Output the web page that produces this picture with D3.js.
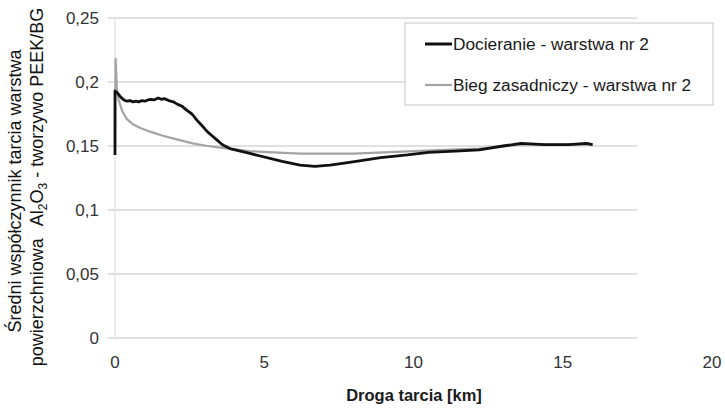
<!DOCTYPE html>
<html>
<head>
<meta charset="utf-8">
<script src="https://cdn.jsdelivr.net/npm/d3@7"></script>
<style>
  html, body { margin: 0; padding: 0; background: #fff; }
  svg { display: block; font-family: "Liberation Sans", Arial, sans-serif; }
</style>
</head>
<body>
<svg id="chart" width="725" height="410"></svg>
<script>
// Friction distance [km] vs. mean friction coefficient
const docieranie = [
  [0, 0.143], [0, 0.193], [0.1, 0.191], [0.2, 0.188], [0.3, 0.186], [0.4, 0.185],
  [0.5, 0.1855], [0.6, 0.1845], [0.7, 0.185], [0.8, 0.1845], [0.9, 0.1855], [1.0, 0.185],
  [1.1, 0.186], [1.2, 0.1865], [1.3, 0.186], [1.45, 0.1875], [1.55, 0.1865], [1.65, 0.187],
  [1.8, 0.1855], [1.95, 0.1845], [2.1, 0.1825], [2.25, 0.181], [2.4, 0.178], [2.58, 0.175],
  [2.75, 0.170], [2.91, 0.166], [3.1, 0.161], [3.25, 0.158], [3.45, 0.154], [3.6, 0.151],
  [3.85, 0.148], [4.2, 0.146], [4.55, 0.144], [4.9, 0.142], [5.6, 0.138], [6.2, 0.135],
  [6.7, 0.134], [7.2, 0.135], [7.8, 0.137], [8.9, 0.141], [9.8, 0.143], [10.5, 0.145],
  [11.4, 0.146], [12.2, 0.147], [13.0, 0.150], [13.6, 0.152], [14.4, 0.151], [15.2, 0.151],
  [15.8, 0.152], [16.0, 0.151]
];
const biegZasadniczy = [
  [0, 0.150], [0.02, 0.218], [0.06, 0.196], [0.12, 0.186], [0.25, 0.177], [0.4, 0.171],
  [0.6, 0.167], [0.85, 0.164], [1.2, 0.161], [1.6, 0.158], [2.1, 0.155], [2.6, 0.152],
  [3.1, 0.150], [3.8, 0.148], [4.5, 0.146], [5.3, 0.145], [6.2, 0.144], [7.0, 0.144],
  [8.0, 0.144], [9.0, 0.145], [10.0, 0.146], [11.0, 0.147], [12.2, 0.148], [13.6, 0.151],
  [14.8, 0.151], [16.0, 0.151]
];
const xTicks = [0, 5, 10, 15, 20];
const yTicks = [0, 0.05, 0.1, 0.15, 0.2, 0.25];
const seriesNames = ["Docieranie - warstwa nr 2", "Bieg zasadniczy - warstwa nr 2"];
const seriesColors = ["#111111", "#a3a3a3"];

const svg = d3.select("#chart");
const x = d3.scaleLinear().domain([0, 20]).range([115, 712]);
const y = d3.scaleLinear().domain([0, 0.25]).range([338, 18]);
const fmt = v => String(v).replace(".", ",");

// horizontal gridlines
svg.append("g").selectAll("line").data(yTicks).join("line")
  .attr("x1", x(0) - 7).attr("x2", x(17.5))
  .attr("y1", d => y(d)).attr("y2", d => y(d))
  .attr("stroke", "#d6d6d6").attr("stroke-width", 1.3);

// vertical axis line
svg.append("line")
  .attr("x1", x(0)).attr("x2", x(0)).attr("y1", y(0.25)).attr("y2", y(0))
  .attr("stroke", "#e2e2e2").attr("stroke-width", 1.3);

// y tick labels
svg.append("g").selectAll("text").data(yTicks).join("text")
  .attr("x", 99).attr("y", d => y(d)).attr("dy", "0.35em")
  .attr("text-anchor", "end").attr("font-size", 17).attr("fill", "#333")
  .text(fmt);

// x tick labels
svg.append("g").selectAll("text").data(xTicks).join("text")
  .attr("x", d => x(d)).attr("y", 368)
  .attr("text-anchor", "middle").attr("font-size", 17).attr("fill", "#333")
  .text(d => d);

// series
const line = d3.line().x(d => x(d[0])).y(d => y(d[1]));
svg.append("path").datum(biegZasadniczy)
  .attr("d", line).attr("fill", "none")
  .attr("stroke", seriesColors[1]).attr("stroke-width", 2.2).attr("stroke-linejoin", "round");
svg.append("path").datum(docieranie)
  .attr("d", line).attr("fill", "none")
  .attr("stroke", seriesColors[0]).attr("stroke-width", 2.8).attr("stroke-linejoin", "round");

// legend
const lg = svg.append("g");
lg.append("rect").attr("x", 405).attr("y", 23).attr("width", 308).attr("height", 82)
  .attr("fill", "#fff").attr("stroke", "#cfcfcf").attr("stroke-width", 1.2);
seriesNames.forEach((name, i) => {
  const ly = 44 + i * 41;
  lg.append("line").attr("x1", 425).attr("x2", 452).attr("y1", ly).attr("y2", ly)
    .attr("stroke", seriesColors[i]).attr("stroke-width", i === 0 ? 3 : 2.2);
  lg.append("text").attr("x", 453).attr("y", ly).attr("dy", "0.35em")
    .attr("font-size", 17.3).attr("fill", "#1a1a1a").text(name);
});

// axis titles
svg.append("text").attr("x", 414).attr("y", 401).attr("text-anchor", "middle")
  .attr("font-size", 16.5).attr("font-weight", "bold").attr("fill", "#1a1a1a")
  .text("Droga tarcia [km]");

svg.append("text").attr("text-anchor", "middle")
  .attr("font-size", 18).attr("fill", "#111")
  .attr("transform", "translate(21,191) rotate(-90)")
  .text("Średni współczynnik tarcia warstwa");

const yt2 = svg.append("text").attr("text-anchor", "middle")
  .attr("font-size", 18).attr("fill", "#111")
  .attr("transform", "translate(43,187) rotate(-90)");
yt2.append("tspan").text("powierzchniowa ");
yt2.append("tspan").attr("dx", 8).text("Al");
yt2.append("tspan").attr("font-size", 12).attr("dy", 4).text("2");
yt2.append("tspan").attr("dy", -4).text("O");
yt2.append("tspan").attr("font-size", 12).attr("dy", 4).text("3");
yt2.append("tspan").attr("dy", -4).text(" - tworzywo PEEK/BG");
</script>
</body>
</html>
